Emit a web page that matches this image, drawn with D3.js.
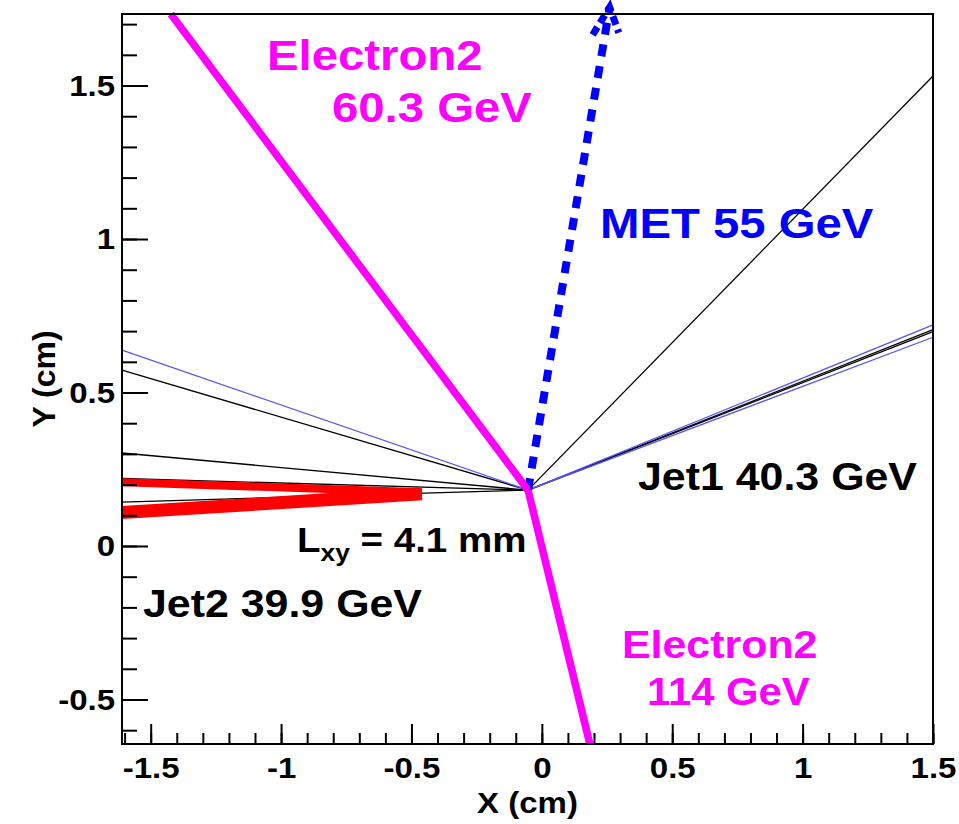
<!DOCTYPE html>
<html>
<head>
<meta charset="utf-8">
<script src="https://cdn.jsdelivr.net/npm/d3@7"></script>
<style>
  body { margin: 0; background: #fff; }
  svg { display: block; font-family: "Liberation Sans", Arial, Helvetica, sans-serif; font-weight: bold; }
</style>
</head>
<body>
<svg id="chart"></svg>
<script>
const width = 959;
const height = 824;

const frame = {left: 122, right: 933, top: 14, bottom: 744};

// axis ranges and ticks (cm)
const xRange = [-1.61, 1.5];
const yRange = [-0.645, 1.733];
const xMajor = [-1.5, -1, -0.5, 0, 0.5, 1, 1.5];
const yMajor = [-0.5, 0, 0.5, 1, 1.5];
const xTickLabels = ["-1.5", "-1", "-0.5", "0", "0.5", "1", "1.5"];
const yTickLabels = ["-0.5", "0", "0.5", "1", "1.5"];

// displaced vertex, every track starts here
const vertex = [-0.053, 0.182];

// thin track end points
const blackTrackEnds = [[1.5, 1.531], [1.5, 0.705], [1.5, 0.698],
    [-1.61, 0.573], [-1.61, 0.303], [-1.61, 0.22], [-1.61, 0.143]];
const blueTrackEnds = [[1.5, 0.72], [1.5, 0.68], [-1.61, 0.638]];

// jet2 red segments [x0, y0, x1, y1]
const redTracks = [[-1.61, 0.208, -0.46, 0.175], [-1.61, 0.109, -0.46, 0.17]];
const redWidths = [8, 13];

// electrons and missing ET
const electronEnds = [[-1.423, 1.733], [0.184, -0.645]];
const metEnd = [0.26, 1.755];
const metHead = [[0.195, 1.665], [0.26, 1.755], [0.295, 1.672]];

const svg = d3.select("#chart")
    .attr("width", width)
    .attr("height", height);

const x = d3.scaleLinear().domain(xRange).range([frame.left, frame.right]);
const y = d3.scaleLinear().domain(yRange).range([frame.bottom, frame.top]);

svg.append("rect")
    .attr("width", width)
    .attr("height", height)
    .attr("fill", "#fff");

// thin tracks
let drawTrack = (end, color) =>
{
    svg.append("line")
        .attr("x1", x(vertex[0])).attr("y1", y(vertex[1]))
        .attr("x2", x(end[0])).attr("y2", y(end[1]))
        .attr("stroke", color)
        .attr("stroke-width", 1.3);
}
blackTrackEnds.forEach(e => drawTrack(e, "#000"));
blueTrackEnds.forEach(e => drawTrack(e, "#5656f0"));

// jet2 red bands
redTracks.forEach((t, i) =>
{
    svg.append("line")
        .attr("x1", x(t[0])).attr("y1", y(t[1]))
        .attr("x2", x(t[2])).attr("y2", y(t[3]))
        .attr("stroke", "#ff0000")
        .attr("stroke-width", redWidths[i]);
});

// MET arrow, dashed
svg.append("line")
    .attr("x1", x(vertex[0])).attr("y1", y(vertex[1]))
    .attr("x2", x(metEnd[0])).attr("y2", y(metEnd[1]))
    .attr("stroke", "#0000ff")
    .attr("stroke-width", 8)
    .attr("stroke-dasharray", "12,10");

svg.append("path")
    .attr("d", d3.line().x(d => x(d[0])).y(d => y(d[1]))(metHead))
    .attr("fill", "none")
    .attr("stroke", "#0000ff")
    .attr("stroke-width", 7)
    .attr("stroke-dasharray", "9,5");

// electrons
electronEnds.forEach(e =>
{
    svg.append("line")
        .attr("x1", x(vertex[0])).attr("y1", y(vertex[1]))
        .attr("x2", x(e[0])).attr("y2", y(e[1]))
        .attr("stroke", "#ff00ff")
        .attr("stroke-width", 7.5);
});

// axes, ticks point into the frame
let styleAxis = (g) =>
{
    g.select(".domain").remove();
    g.attr("font-size", 30)
        .attr("font-family", "Liberation Sans, Arial, sans-serif")
        .attr("font-weight", "bold");
    g.selectAll("line").attr("stroke", "#000").attr("stroke-width", 2);
    g.selectAll("text").attr("fill", "#000");
}

const xMinor = d3.range(-16, 16).map(v => v / 10);
const yMinor = d3.range(-6, 18).map(v => v / 10);

svg.append("g")
    .attr("transform", `translate(0,${frame.bottom})`)
    .call(d3.axisBottom(x).tickValues(xMinor).tickFormat("").tickSizeInner(-11).tickSizeOuter(0))
    .call(styleAxis);

const gx = svg.append("g")
    .attr("transform", `translate(0,${frame.bottom})`)
    .call(d3.axisBottom(x).tickValues(xMajor).tickFormat((d, i) => xTickLabels[i])
        .tickSizeInner(-20).tickSizeOuter(0).tickPadding(13))
    .call(styleAxis);
gx.selectAll("text").attr("transform", "scale(1.1,1)");

svg.append("g")
    .attr("transform", `translate(${frame.left},0)`)
    .call(d3.axisLeft(y).tickValues(yMinor).tickFormat("").tickSizeInner(-15).tickSizeOuter(0))
    .call(styleAxis);

const gy = svg.append("g")
    .attr("transform", `translate(${frame.left},0)`)
    .call(d3.axisLeft(y).tickValues(yMajor).tickFormat((d, i) => yTickLabels[i])
        .tickSizeInner(-26).tickSizeOuter(0).tickPadding(7))
    .call(styleAxis);
gy.selectAll("text").attr("x", -7 / 1.1).attr("transform", "scale(1.1,1)");

svg.append("rect")
    .attr("x", frame.left).attr("y", frame.top)
    .attr("width", frame.right - frame.left)
    .attr("height", frame.bottom - frame.top)
    .attr("fill", "none")
    .attr("stroke", "#000")
    .attr("stroke-width", 2);

// axis titles
svg.append("text")
    .attr("transform", `translate(${(frame.left + frame.right) / 2},813) scale(1.1,1)`)
    .attr("text-anchor", "middle")
    .attr("font-size", 30)
    .text("X (cm)");

svg.append("text")
    .attr("transform", `translate(55,${(frame.top + frame.bottom) / 2}) rotate(-90)`)
    .attr("text-anchor", "middle")
    .attr("font-size", 32)
    .text("Y (cm)");

// labels
let label = (px, py, text, size, color) =>
{
    return svg.append("text")
        .attr("transform", `translate(${px},${py}) scale(1.1,1)`)
        .attr("font-size", size)
        .attr("fill", color)
        .text(text);
}

label(267, 70, "Electron2", 43, "#ff00ff");
label(332, 122, "60.3 GeV", 43, "#ff00ff");
label(600, 238, "MET 55 GeV", 43, "#0000ff");
label(638, 490, "Jet1 40.3 GeV", 39, "#000");
label(143, 617, "Jet2 39.9 GeV", 39, "#000");
label(622, 658, "Electron2", 39, "#ff00ff");
label(647, 705, "114 GeV", 38, "#ff00ff");

const lxy = svg.append("text")
    .attr("transform", "translate(297,552) scale(1.1,1)")
    .attr("font-size", 35)
    .attr("fill", "#000");
lxy.append("tspan").text("L");
lxy.append("tspan").attr("font-size", 24).attr("dy", 9).text("xy");
lxy.append("tspan").attr("dy", -9).text(" = 4.1 mm");
</script>
</body>
</html>
